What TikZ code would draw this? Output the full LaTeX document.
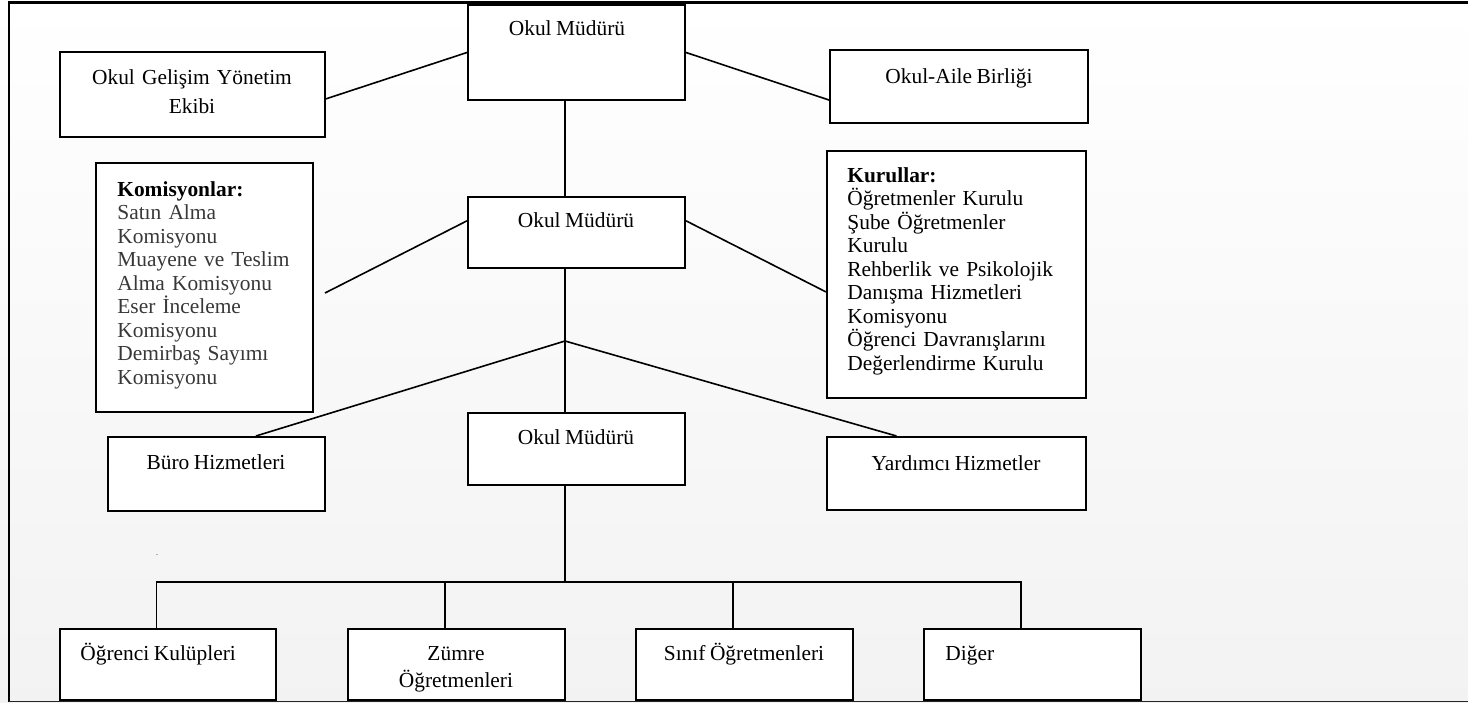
\documentclass[tikz,border=0pt]{standalone}
\usepackage{fontspec}
\setmainfont{Liberation Serif}[WordSpace=0.85]
\usetikzlibrary{fit,calc}
\tikzset{
  box/.style={draw, line width=1pt, fill=white, inner sep=0pt},
  txt/.style={font=\fontsize{10.7}{11.75}\selectfont, inner sep=0pt},
  conn/.style={line width=0.8pt},
}
\begin{document}
\begin{tikzpicture}[x=0.5pt,y=-0.5pt]
\useasboundingbox (0,0) rectangle (1468,702);
\shade[top color=white, bottom color=black!5] (0,0) rectangle (1468,702);
% frame
\draw[line width=1.5pt] (8,2) -- (1468,2);
\draw[line width=1pt] (9,2) -- (9,702);
\draw[line width=0.6pt, black!85] (9,701.5) -- (1468,701.5);

% boxes
\node[box, fit={(468,5) (685,100)}] (m1) {};
\node[box, fit={(60,52) (325,137)}] (g) {};
\node[box, fit={(830,50) (1088,123)}] (oa) {};
\node[box, fit={(96,163) (313,412)}] (kom) {};
\node[box, fit={(468,197) (685,268)}] (m2) {};
\node[box, fit={(827,151) (1086,398)}] (kur) {};
\node[box, fit={(108,437) (325,511)}] (buro) {};
\node[box, fit={(468,413) (685,485)}] (m3) {};
\node[box, fit={(827,437) (1086,510)}] (yar) {};
\node[box, fit={(60,629) (276,700)}] (b1) {};
\node[box, fit={(348,629) (565,700)}] (b2) {};
\node[box, fit={(636,629) (853,700)}] (b3) {};
\node[box, fit={(924,629) (1141,700)}] (b4) {};

% texts
\node[txt, anchor=base] (m1t) at (567,35) {Okul Müdürü};
\node[txt, anchor=base, text width=125pt, align=center, font=\fontsize{10.7}{14.5}\selectfont] (gt) at (192,84) {Okul Gelişim Yönetim\\Ekibi};
\node[txt, anchor=base] (oat) at (959,83) {Okul-Aile Birliği};
\node[txt, anchor=base west, text width=100pt, align=left, text=black!78] (komt) at (117,196)
  {{\color{black}\bfseries Komisyonlar:}\\Satın Alma\\Komisyonu\\Muayene ve Teslim\\Alma Komisyonu\\Eser İnceleme\\Komisyonu\\Demirbaş Sayımı\\Komisyonu};
\node[txt, anchor=base] (m2t) at (576,227) {Okul Müdürü};
\node[txt, anchor=base west, text width=120pt, align=left] (kurt) at (847,182)
  {\textbf{Kurullar:}\\Öğretmenler Kurulu\\Şube Öğretmenler\\Kurulu\\Rehberlik ve Psikolojik\\Danışma Hizmetleri\\Komisyonu\\Öğrenci Davranışlarını\\Değerlendirme Kurulu};
\node[txt, anchor=base] (burot) at (216,469) {Büro Hizmetleri};
\node[txt, anchor=base] (m3t) at (576,444) {Okul Müdürü};
\node[txt, anchor=base] (yart) at (956,470) {Yardımcı Hizmetler};
\node[txt, anchor=base west] (b1t) at (80,660) {Öğrenci Kulüpleri};
\node[txt, anchor=base, text width=100pt, align=center, font=\fontsize{10.7}{13.5}\selectfont] (b2t) at (456,660) {Zümre\\Öğretmenleri};
\node[txt, anchor=base] (b3t) at (744,660) {Sınıf Öğretmenleri};
\node[txt, anchor=base west] (b4t) at (945,660) {Diğer};
\node[font=\tiny, text=black!60, inner sep=0pt] (dot) at (157,555) {.};

% connectors
\coordinate (j) at (565,341);
\coordinate (komend) at (325,293);
\coordinate (bar) at (565,582);
\draw[conn] (m1.south -| j) -- (m2.north -| j);
\draw[conn] (m1.west) -- ($(g.north east)!0.55!(g.south east)$);
\draw[conn] (m1.east) -- ($(oa.north west)!0.68!(oa.south west)$);
\draw[conn] ($(m2.north west)!0.34!(m2.south west)$) -- (komend);
\draw[conn] ($(m2.north east)!0.34!(m2.south east)$) -- ($(kur.north west)!0.57!(kur.south west)$);
\draw[conn] (m2.south -| j) -- (j) -- (m3.north -| j);
\draw[conn] (j) -- ($(buro.north west)!0.68!(buro.north east)$);
\draw[conn] (j) -- ($(yar.north west)!0.27!(yar.north east)$);
\draw[conn] (m3.south -| j) -- (bar);
\coordinate (d1) at ($(b1.north west)!0.447!(b1.north east)$);
\coordinate (d2) at ($(b2.north west)!0.447!(b2.north east)$);
\coordinate (d3) at ($(b3.north west)!0.447!(b3.north east)$);
\coordinate (d4) at ($(b4.north west)!0.447!(b4.north east)$);
\draw[conn] (d1) -- (d1 |- bar) -- (d4 |- bar) -- (d4);
\draw[conn] (d2) -- (d2 |- bar);
\draw[conn] (d3) -- (d3 |- bar);
\end{tikzpicture}
\end{document}
